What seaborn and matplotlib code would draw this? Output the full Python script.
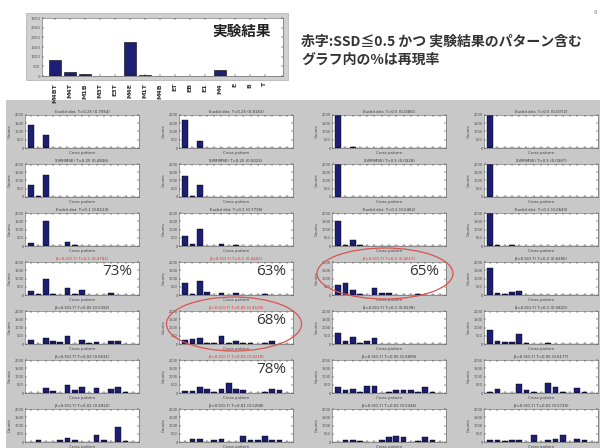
import matplotlib
matplotlib.use("Agg")
import matplotlib.pyplot as plt
from matplotlib.patches import Rectangle, Ellipse
import seaborn as sns

W, H = 601, 448
NAVY = "#1c1f73"
PANEL_GRAY = "#c8c8c8"
RED = "#e8322b"

# ---------------- data ----------------
top_categories = ["M4BT", "M4T", "M1B", "M3T", "E3T", "M4E", "M1T", "M4B",
                  "ET", "EB", "E1", "M4", "E", "B", "T"]
top_values = [818, 220, 90, 0, 0, 1780, 30, 0, 0, 0, 0, 310, 0, 0, 0]
top_yticks = [0, 500, 1000, 1500, 2000, 2500, 3000]

n_cat = 15
small_yticks = [0, 500, 1000, 1500, 2000]

row1_values = [
    [1400, 0, 760, 0, 0, 0, 0, 0, 0, 0, 0, 0, 0, 0, 0],
    [1700, 0, 400, 0, 0, 0, 0, 0, 0, 0, 0, 0, 0, 0, 0],
    [2300, 0, 80, 0, 0, 0, 0, 0, 0, 0, 0, 0, 0, 0, 0],
    [2300, 0, 0, 0, 0, 0, 0, 0, 0, 0, 0, 0, 0, 0, 0],
]
row2_values = [
    [700, 40, 1350, 0, 0, 30, 0, 0, 0, 0, 0, 0, 0, 0, 0],
    [1300, 60, 750, 0, 0, 0, 0, 0, 0, 0, 0, 0, 0, 0, 0],
    [2300, 0, 30, 0, 0, 0, 0, 0, 0, 0, 0, 0, 0, 0, 0],
    [2300, 0, 0, 0, 0, 0, 0, 0, 0, 0, 0, 0, 0, 0, 0],
]
row3_values = [
    [200, 30, 1500, 0, 0, 240, 40, 0, 0, 0, 0, 0, 0, 0, 0],
    [600, 100, 1060, 30, 0, 140, 0, 40, 0, 0, 0, 0, 0, 0, 0],
    [1500, 40, 340, 60, 0, 30, 0, 0, 0, 0, 0, 0, 0, 0, 0],
    [2300, 50, 0, 40, 0, 0, 0, 0, 0, 0, 0, 0, 0, 0, 0],
]
row4_values = [
    [240, 40, 1000, 60, 0, 400, 40, 300, 0, 0, 0, 140, 0, 0, 0],
    [740, 40, 840, 180, 30, 100, 0, 140, 0, 0, 0, 40, 0, 0, 0],
    [600, 740, 300, 40, 0, 400, 100, 100, 0, 0, 0, 40, 0, 0, 0],
    [1640, 140, 40, 200, 240, 0, 0, 0, 0, 0, 0, 0, 0, 0, 0],
]
row5_values = [
    [260, 0, 360, 200, 140, 500, 0, 220, 60, 140, 0, 180, 180, 0, 0],
    [260, 300, 360, 40, 40, 460, 40, 160, 40, 40, 0, 40, 160, 0, 0],
    [660, 160, 440, 60, 160, 340, 20, 20, 20, 0, 0, 0, 20, 0, 0],
    [860, 200, 140, 140, 600, 60, 0, 0, 40, 30, 0, 0, 0, 0, 0],
]
row6_values = [
    [0, 20, 300, 100, 0, 500, 200, 360, 0, 300, 0, 240, 360, 60, 0],
    [100, 140, 340, 240, 40, 260, 600, 240, 200, 20, 0, 40, 240, 200, 0],
    [340, 160, 260, 40, 440, 400, 0, 40, 200, 200, 160, 40, 360, 40, 0],
    [40, 260, 0, 0, 540, 200, 40, 0, 600, 360, 40, 0, 300, 40, 0],
]
row7_values = [
    [0, 100, 0, 20, 140, 240, 100, 0, 0, 400, 100, 0, 900, 40, 0],
    [0, 200, 200, 0, 100, 160, 0, 0, 360, 140, 140, 340, 140, 100, 0],
    [0, 100, 100, 60, 0, 0, 140, 300, 340, 280, 0, 40, 300, 100, 0],
    [100, 100, 60, 100, 140, 0, 400, 0, 100, 200, 440, 0, 200, 100, 0],
]
all_rows = [row1_values, row2_values, row3_values, row4_values,
            row5_values, row6_values, row7_values]

panel_titles = [
    ["Euclid dist. T=0.25 (0.7954)", "Euclid dist. T=0.25 (0.8163)",
     "Euclid dist. T=0.5 (0.0465)", "Euclid dist. T=0.5 (0.0372)"],
    ["SVM(MSE) T=0.25 (0.4836)", "SVM(MSE) T=0.25 (0.5023)",
     "SVM(MSE) T=0.5 (0.0328)", "SVM(MSE) T=0.5 (0.0367)"],
    ["Euclid dist. T=0.1 (0.8124)", "Euclid dist. T=0.1 (0.7736)",
     "Euclid dist. T=0.2 (0.5462)", "Euclid dist. T=0.2 (0.0643)"],
    ["β=0.5(0.7) T=0.1 (0.4781)", "β=0.5(0.7) T=0.1 (0.4452)",
     "β=0.5(0.7) T=0.2 (0.4617)", "β=0.5(0.7) T=0.2 (0.6285)"],
    ["β=0.5(0.7) T=0.05 (0.5392)", "β=0.5(0.7) T=0.05 (0.4106)",
     "β=0.5(0.7) T=0.1 (0.5538)", "β=0.5(0.7) T=0.1 (0.5820)"],
    ["β=0.5(0.7) T=0.02 (0.5631)", "β=0.5(0.7) T=0.02 (0.4218)",
     "β=0.5(0.7) T=0.05 (0.5809)", "β=0.5(0.7) T=0.05 (0.6177)"],
    ["β=0.5(0.7) T=0.01 (0.4922)", "β=0.5(0.7) T=0.01 (0.5208)",
     "β=0.5(0.7) T=0.02 (0.5346)", "β=0.5(0.7) T=0.02 (0.5730)"],
]
red_panels = [(3, 0), (3, 1), (3, 2), (4, 1), (5, 1)]
percent_labels = {(3, 0): "73%", (3, 1): "63%", (3, 2): "65%",
                  (4, 1): "68%", (5, 1): "78%"}

header_line1 = "赤字:SSD≦0.5 かつ 実験結果のパターン含む"
header_line2 = "グラフ内の%は再現率"
top_badge = "実験結果"

# ---------------- layout helpers ----------------
def px_rect(x0, y0, w, h):
    return [x0 / W, 1 - (y0 + h) / H, w / W, h / H]

def fx(x):
    return x / W

def fy(y):
    return 1 - y / H

CJK = ["Noto Sans CJK JP", "DejaVu Sans"]

fig = plt.figure(figsize=(W / 100, H / 100), dpi=100)
fig.patch.set_facecolor("white")

# grey backgrounds
fig.patches.append(Rectangle((fx(6), 0), fx(600) - fx(6), fy(100), transform=fig.transFigure,
                             facecolor=PANEL_GRAY, edgecolor="none", zorder=-5))
fig.patches.append(Rectangle((fx(26), fy(80)), fx(288) - fx(26), fy(13) - fy(80),
                             transform=fig.transFigure, facecolor="#d0d0d0",
                             edgecolor="#b8b8b8", linewidth=0.6, zorder=-5))

# ---------------- top chart ----------------
ax0 = fig.add_axes(px_rect(42, 18, 241, 58))
sns.barplot(x=list(range(len(top_values))), y=top_values, ax=ax0, color=NAVY,
            saturation=1, edgecolor="black", linewidth=0.4, width=0.8)
ax0.set_xlim(-0.87, 15.2)
ax0.set_ylim(0, 3000)
ax0.set_facecolor("white")
ax0.set_xticks(range(len(top_categories)))
ax0.set_xticklabels(top_categories, rotation=90, fontsize=4.5, fontweight="bold", color="#333333")
ax0.set_yticks(top_yticks)
ax0.set_yticklabels([str(v) for v in top_yticks], fontsize=2.8, color="#555555")
ax0.tick_params(axis="both", direction="in", length=1.5, width=0.3, pad=1,
                top=True, right=True)
ax0.tick_params(axis="x", pad=5)
ax0.set_xlabel("")
ax0.set_ylabel("")
for s in ax0.spines.values():
    s.set_linewidth(0.4)
    s.set_color("#555555")
ax0.text(0.95, 0.78, top_badge, transform=ax0.transAxes, ha="right", va="center",
         fontsize=10.5, fontweight="bold", family=CJK, color="#222222")

fig.text(fx(301), fy(42), header_line1, ha="left", va="center", fontsize=10,
         fontweight="bold", family=CJK, color="#333333")
fig.text(fx(301), fy(60), header_line2, ha="left", va="center", fontsize=10,
         fontweight="bold", family=CJK, color="#333333")
fig.text(fx(597), fy(12), "8", ha="right", va="center", fontsize=4, color="#888888")

# ---------------- grid of small charts ----------------
col_left = [25, 179, 332, 484]
row_top = [115, 164, 213, 262, 311, 360, 409]
ax_w, ax_h = 114, 33

for r, row in enumerate(all_rows):
    for c, vals in enumerate(row):
        ax = fig.add_axes(px_rect(col_left[c], row_top[r], ax_w, ax_h))
        sns.barplot(x=list(range(n_cat)), y=vals, ax=ax, color=NAVY, saturation=1,
                    edgecolor="black", linewidth=0.3, width=0.8)
        ax.set_facecolor("white")
        ax.set_xlim(-0.85, 14.85)
        ax.set_ylim(0, 2000)
        ax.set_xticks(range(n_cat))
        ax.set_xticklabels([])
        ax.set_yticks(small_yticks)
        ax.set_yticklabels([str(v) for v in small_yticks], fontsize=2.5, color="#444444")
        ax.tick_params(axis="both", direction="in", length=1.2, width=0.3, pad=1,
                       top=True, right=True)
        for s in ax.spines.values():
            s.set_linewidth(0.4)
            s.set_color("#555555")
        ax.set_ylabel("Counts", fontsize=2.8, labelpad=2, color="#444444")
        ax.set_xlabel("Cross pattern", fontsize=2.8, labelpad=1.5, color="#444444")
        tcolor = RED if (r, c) in red_panels else "#333333"
        ax.set_title(panel_titles[r][c], fontsize=2.8, pad=1.5, color=tcolor)
        if (r, c) in percent_labels:
            ax.text(0.94, 0.7, percent_labels[(r, c)], transform=ax.transAxes,
                    ha="right", va="center", fontsize=11, color="#333333",
                    family=["Open Sans", "DejaVu Sans"])

# red ellipses
for (cx, cy, ew, eh) in [(385, 273.5, 136, 51), (234, 324, 135, 54)]:
    fig.patches.append(Ellipse((fx(cx), fy(cy)), ew / W, eh / H, transform=fig.transFigure,
                               facecolor="none", edgecolor="#d9534f", linewidth=0.9, zorder=10))

fig.savefig("out.png", dpi=100)
